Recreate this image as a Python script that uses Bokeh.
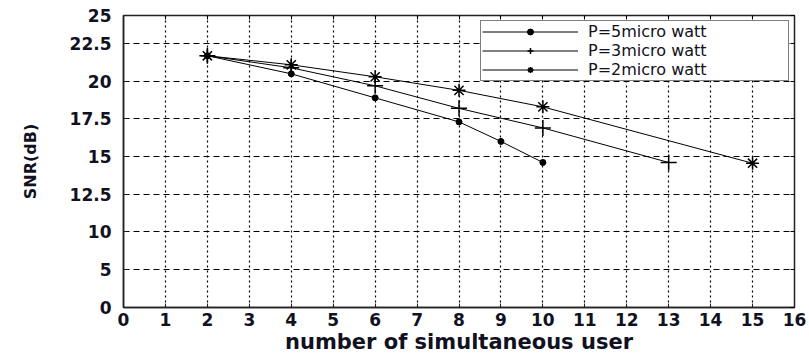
from bokeh.plotting import figure
from bokeh.models import Range1d, FixedTicker, LinearAxis, Legend, LegendItem
from bokeh.embed import file_html
from bokeh.resources import INLINE

# ---- data ----
x_p5 = [2, 4, 6, 8, 9, 10]
y_p5 = [21.7, 20.5, 18.9, 17.3, 16.0, 14.6]
x_p3 = [2, 4, 6, 8, 10, 13]
y_p3 = [21.7, 20.9, 19.7, 18.2, 16.9, 14.6]
x_p2 = [2, 4, 6, 8, 10, 15]
y_p2 = [21.7, 21.1, 20.3, 19.4, 18.3, 14.55]

x_ticks = list(range(0, 17))
# the original y axis is relabelled: where each tick sits on the scale, and its label
y_tick_values = [4.95, 7.5, 10, 12.5, 15, 17.5, 20, 22.5, 24.38]
y_tick_labels = ["0", "5", "10", "12.5", "15", "17.5", "20", "22.5", "25"]

labels = ["P=5micro watt", "P=3micro watt", "P=2micro watt"]

TXT = "#111122"
FONT = "DejaVu Sans"

p = figure(width=809, height=356, output_backend="svg", toolbar_location=None,
           x_range=Range1d(0, 16), y_range=Range1d(y_tick_values[0], y_tick_values[-1]),
           min_border_left=123, min_border_right=15, min_border_top=15, min_border_bottom=47,
           background_fill_color="white", border_fill_color="white")
p.outline_line_color = "#222222"
p.outline_line_width = 1.5

p.xaxis.ticker = FixedTicker(ticks=x_ticks)
p.yaxis.ticker = FixedTicker(ticks=y_tick_values)
p.yaxis.major_label_overrides = {v: l for v, l in zip(y_tick_values, y_tick_labels)}

for ax in (p.xaxis, p.yaxis):
    ax.major_tick_in = 4
    ax.major_tick_out = 0
    ax.minor_tick_line_color = None
    ax.axis_line_color = "#222222"
    ax.axis_line_width = 1.5
    ax.major_tick_line_color = "#222222"
    ax.major_label_text_font = FONT
    ax.major_label_text_font_style = "bold"
    ax.major_label_text_font_size = "17px"
    ax.major_label_text_color = TXT

p.xaxis.major_label_standoff = 5
p.yaxis.major_label_standoff = 12
p.xaxis.axis_label = "number of simultaneous user"
p.xaxis.axis_label_text_font = FONT
p.xaxis.axis_label_text_font_style = "bold"
p.xaxis.axis_label_text_font_size = "21px"
p.xaxis.axis_label_text_color = TXT
p.xaxis.axis_label_standoff = 1

p.yaxis.axis_label = "SNR(dB)"
p.yaxis.axis_label_text_font = FONT
p.yaxis.axis_label_text_font_style = "bold"
p.yaxis.axis_label_text_font_size = "16px"
p.yaxis.axis_label_text_color = TXT
p.yaxis.axis_label_standoff = 27

# box ticks on top and right (no labels)
top = LinearAxis(ticker=FixedTicker(ticks=x_ticks), major_tick_in=4, major_tick_out=0,
                 major_label_text_color=None, major_label_standoff=0,
                 minor_tick_line_color=None, axis_line_color="#222222")
right = LinearAxis(ticker=FixedTicker(ticks=y_tick_values), major_tick_in=4, major_tick_out=0,
                   major_label_text_color=None, major_label_standoff=0,
                   minor_tick_line_color=None, axis_line_color="#222222")
p.add_layout(top, "above")
p.add_layout(right, "right")

p.xgrid.grid_line_color = "black"
p.xgrid.grid_line_dash = "2 3"
p.xgrid.grid_line_width = 1.2
p.ygrid.grid_line_color = "black"
p.ygrid.grid_line_dash = "6 4"
p.ygrid.grid_line_width = 1

l5 = p.line(x_p5, y_p5, line_color="black", line_width=1)
m5 = p.scatter(x_p5, y_p5, marker="circle", size=6, fill_color="black", line_color="black")
l3 = p.line(x_p3, y_p3, line_color="black", line_width=1)
m3 = p.scatter(x_p3, y_p3, marker="cross", size=16, line_color="black", line_width=1.5)
l2 = p.line(x_p2, y_p2, line_color="black", line_width=1)
m2 = p.scatter(x_p2, y_p2, marker="asterisk", size=13, line_color="black", line_width=1.5)

legend = Legend(items=[LegendItem(label=labels[0], renderers=[l5, m5]),
                       LegendItem(label=labels[1], renderers=[l3, m3]),
                       LegendItem(label=labels[2], renderers=[l2, m2])],
                location="top_right", margin=5, padding=1, spacing=0,
                glyph_width=96, glyph_height=15, label_height=14, label_width=199,
                label_standoff=10,
                label_text_font=FONT, label_text_font_size="16px", label_text_color=TXT,
                label_text_line_height=0.9,
                border_line_color="black", border_line_width=1.2,
                background_fill_color="white", background_fill_alpha=1)
p.add_layout(legend, "center")

open("out.html", "w").write(file_html(p, INLINE))
